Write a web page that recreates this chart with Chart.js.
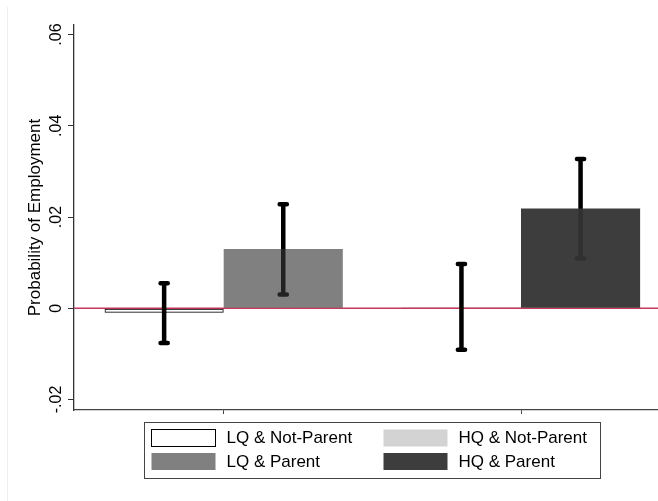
<!DOCTYPE html>
<html>
<head>
<meta charset="utf-8">
<script src="https://cdn.jsdelivr.net/npm/chart.js@4/dist/chart.umd.min.js"></script>
<style>
  html, body { margin: 0; padding: 0; background: #fff; }
  #wrap { width: 658px; height: 501px; }
</style>
</head>
<body>
<div id="wrap"><canvas id="chart" width="658" height="501"></canvas></div>
<script>
// Job quality groups on the x axis and parental status within each group
const qualities = ['LQ', 'HQ'];
const parentStatus = ['Not-Parent', 'Parent'];
const groupPositions = [1, 2];

// Point estimates and 95% confidence bounds
const notParentValues = [-0.001, 0.0002];
const parentValues = [0.013, 0.0219];
const notParentLow = [-0.0076, -0.0091];
const notParentHigh = [0.0055, 0.0097];
const parentLow = [0.0030, 0.0109];
const parentHigh = [0.0228, 0.0327];

// Y axis ticks
const yTickValues = [-0.02, 0, 0.02, 0.04, 0.06];
const yTickLabels = ['-.02', '0', '.02', '.04', '.06'];

const FONT = "'Liberation Sans', Arial, Helvetica, sans-serif";

const seriesValues = [notParentValues, parentValues];
const seriesLow = [notParentLow, parentLow];
const seriesHigh = [notParentHigh, parentHigh];

// Fill colours per bar (quality order), partly see-through so the CI line shows inside
const seriesFill = [
  ['rgba(255,255,255,0)', 'rgba(0,0,0,0.173)'],
  ['rgba(54,54,54,0.63)', 'rgba(51,51,51,0.95)']
];
const seriesBorder = [['#000000', 'rgba(0,0,0,0)'], ['rgba(0,0,0,0)', 'rgba(0,0,0,0)']];
const seriesBorderWidth = [[1, 0], [0, 0]];

const datasets = parentStatus.map((status, s) => ({
  label: status,
  data: groupPositions.map((x, i) => ({ x: x, y: seriesValues[s][i] })),
  backgroundColor: seriesFill[s],
  borderColor: seriesBorder[s],
  borderWidth: seriesBorderWidth[s],
  borderSkipped: false
}));

// Background, zero reference line and confidence intervals (drawn beneath the bars)
const backdrop = {
  id: 'backdrop',
  beforeDraw(chart) {
    const { ctx, height } = chart;
    ctx.save();
    ctx.fillStyle = '#ffffff';
    ctx.fillRect(0, 0, chart.width, height);
    ctx.strokeStyle = '#eeeeee';
    ctx.lineWidth = 1;
    ctx.beginPath();
    ctx.moveTo(7.5, 7);
    ctx.lineTo(7.5, height);
    ctx.stroke();
    ctx.restore();
  }
};

const errorBars = {
  id: 'errorBars',
  beforeDatasetsDraw(chart) {
    const { ctx, chartArea, scales } = chart;
    const y = scales.y;
    ctx.save();
    const y0 = y.getPixelForValue(0);
    ctx.strokeStyle = '#c8375f';
    ctx.lineWidth = 1.6;
    ctx.beginPath();
    ctx.moveTo(chartArea.left, y0);
    ctx.lineTo(chartArea.right, y0);
    ctx.stroke();

    ctx.strokeStyle = '#000000';
    ctx.lineWidth = 4.5;
    ctx.lineCap = 'round';
    chart.data.datasets.forEach((ds, s) => {
      const meta = chart.getDatasetMeta(s);
      meta.data.forEach((bar, i) => {
        const top = y.getPixelForValue(seriesHigh[s][i]);
        const bot = y.getPixelForValue(seriesLow[s][i]);
        const cx = bar.x;
        ctx.beginPath();
        ctx.moveTo(cx, top);
        ctx.lineTo(cx, bot);
        ctx.moveTo(cx - 3.6, top);
        ctx.lineTo(cx + 3.6, top);
        ctx.moveTo(cx - 3.6, bot);
        ctx.lineTo(cx + 3.6, bot);
        ctx.stroke();
      });
    });
    ctx.restore();
  }
};

// Two-column boxed legend: columns are job quality, rows are parental status
const boxLegend = {
  id: 'boxLegend',
  afterDraw(chart) {
    const { ctx } = chart;
    const box = { left: 144.5, top: 422.5, width: 456, height: 56 };
    ctx.save();
    ctx.strokeStyle = '#444444';
    ctx.lineWidth = 1;
    ctx.strokeRect(box.left, box.top, box.width, box.height);
    ctx.font = '17px ' + FONT;
    ctx.textBaseline = 'middle';
    ctx.textAlign = 'left';
    parentStatus.forEach((status, row) => {
      const ds = chart.data.datasets[row];
      qualities.forEach((q, col) => {
        const sx = 151.5 + col * 232;
        const sy = 429.5 + row * 23.5;
        const sw = 64, sh = 17;
        ctx.fillStyle = ds.backgroundColor[col];
        ctx.fillRect(sx, sy, sw, sh);
        if (ds.borderWidth[col] > 0) {
          ctx.strokeStyle = ds.borderColor[col];
          ctx.lineWidth = 1;
          ctx.strokeRect(sx, sy, sw, sh);
        }
        ctx.fillStyle = '#000000';
        ctx.fillText(q + ' & ' + status, sx + 75, sy + sh / 2 + 0.5);
      });
    });
    ctx.restore();
  }
};

new Chart(document.getElementById('chart'), {
  type: 'bar',
  data: { datasets: datasets },
  options: {
    responsive: false,
    animation: false,
    devicePixelRatio: 1,
    layout: { padding: { top: 25, left: 0, right: 0, bottom: 0 } },
    datasets: { bar: { categoryPercentage: 0.8013, barPercentage: 1 } },
    plugins: { legend: { display: false }, tooltip: { enabled: false } },
    scales: {
      x: {
        type: 'linear',
        offset: false,
        min: 0.4965,
        max: 2.4608,
        afterBuildTicks: (s) => { s.ticks = groupPositions.map(v => ({ value: v })); },
        ticks: { display: false },
        grid: { offset: false, drawOnChartArea: false, drawTicks: true, tickLength: 4, color: '#444444', lineWidth: 1 },
        border: { display: true, color: '#444444', width: 1.3 },
        afterFit: (s) => { s.height = 91; }
      },
      y: {
        min: -0.0223,
        max: 0.0621,
        afterBuildTicks: (s) => { s.ticks = yTickValues.map(v => ({ value: v })); },
        ticks: {
          minRotation: 90,
          maxRotation: 90,
          crossAlign: 'center',
          padding: -2,
          color: '#000000',
          font: { family: FONT, size: 16 },
          callback: (v) => yTickLabels[yTickValues.indexOf(v)]
        },
        grid: { drawOnChartArea: false, drawTicks: true, tickLength: 6, color: '#333333', lineWidth: 1 },
        border: { display: true, color: '#333333', width: 1.3 },
        title: {
          display: true,
          text: 'Probability of Employment',
          color: '#000000',
          font: { family: FONT, size: 17 },
          padding: { top: 25, bottom: 0 }
        },
        afterFit: (s) => { s.width = 74; }
      }
    }
  },
  plugins: [backdrop, errorBars, boxLegend]
});
</script>
</body>
</html>
